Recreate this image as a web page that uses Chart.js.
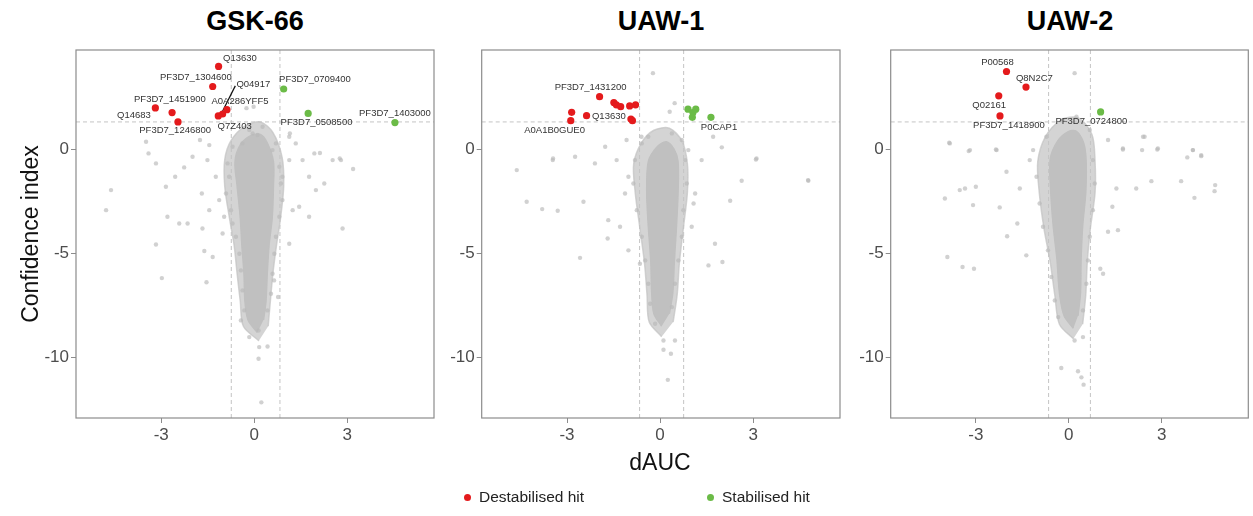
<!DOCTYPE html>
<html>
<head>
<meta charset="utf-8">
<script src="https://cdn.jsdelivr.net/npm/chart.js@4.4.1/dist/chart.umd.min.js"></script>
<style>
  body { margin: 0; background: #fff; }
  #wrap { position: relative; width: 1253px; height: 516px; overflow: hidden; font-family: "Liberation Sans", Arial, sans-serif; }
  canvas { position: absolute; top: 0; }
  .title { position: absolute; top: 6px; height: 30px; line-height: 30px; text-align: center; font-weight: bold; font-size: 27px; color: #000; }
  .axis-title { position: absolute; font-size: 23px; color: #111; text-align: center; height: 28px; line-height: 28px; }
  .legend { position: absolute; top: 486px; height: 22px; line-height: 22px; font-size: 15.5px; color: #222; }
  .dot { display: inline-block; width: 7px; height: 7px; border-radius: 50%; margin-right: 8px; vertical-align: 1px; }
</style>
</head>
<body>
<div id="wrap">
  <div class="title" style="left:76px;width:358px">GSK-66</div>
  <div class="title" style="left:482px;width:358px">UAW-1</div>
  <div class="title" style="left:891px;width:358px">UAW-2</div>
  <canvas id="c1" width="440" height="450" style="left:0"></canvas>
  <canvas id="c2" width="406" height="450" style="left:440px"></canvas>
  <canvas id="c3" width="407" height="450" style="left:846px"></canvas>
  <div class="axis-title" style="left:-120px;top:220px;width:300px;transform:rotate(-90deg)">Confidence index</div>
  <div class="axis-title" style="left:560px;top:448px;width:200px">dAUC</div>
  <div class="legend" style="left:464px"><span class="dot" style="background:#e41a1c"></span>Destabilised hit</div>
  <div class="legend" style="left:707px"><span class="dot" style="background:#6bbb47"></span>Stabilised hit</div>
</div>
<script>
const xTicks = [-3, 0, 3];
const yTicks = [0, -5, -10];
const xRange = [-5.75, 5.8];
const yRange = [-12.9, 4.75];
const cutY = 1.3;

// GSK-66
const gskCutX = [-0.74, 0.83];
const gskCore = [[0.1,-8.8],[-0.2,-8.2],[-0.3,-7.3],[-0.33,-6.0],[-0.4,-4.6],[-0.45,-3.3],[-0.55,-1.8],[-0.62,-0.6],[-0.45,0.2],[-0.1,0.65],[0.2,0.7],[0.42,0.3],[0.62,-0.6],[0.62,-1.8],[0.58,-3.3],[0.48,-4.6],[0.42,-6.0],[0.38,-7.3],[0.3,-8.2]];
const gskHalo = [[0.15,-9.2],[-0.35,-8.5],[-0.45,-7.3],[-0.55,-6.0],[-0.65,-4.6],[-0.8,-3.3],[-0.95,-1.8],[-0.95,-0.5],[-0.75,0.4],[-0.3,1.1],[0.2,1.3],[0.6,0.8],[0.9,-0.4],[0.95,-1.8],[0.85,-3.3],[0.72,-4.6],[0.6,-6.0],[0.52,-7.3],[0.45,-8.5]];
const gskGrey = [[-4.62,-1.97],[-4.78,-2.93],[-3.17,-0.69],[-3.41,-0.21],[-3.49,0.35],[-2.85,-1.81],[-2.55,-1.33],[-2.26,-0.88],[-1.99,-0.37],[-2.80,-3.25],[-2.42,-3.57],[-2.15,-3.57],[-3.17,-4.58],[-2.98,-6.19],[-1.54,-6.39],[-1.61,-4.89],[-1.34,-5.18],[-1.67,-3.81],[-1.45,-2.93],[-1.69,-2.13],[-1.51,-0.53],[-1.45,0.19],[-1.02,-4.05],[-1.13,-2.45],[1.13,-4.54],[1.24,-2.93],[1.45,-2.77],[1.77,-3.25],[1.77,-1.33],[1.99,-1.97],[2.26,-1.65],[1.94,-0.21],[1.56,-0.53],[1.34,0.27],[1.13,0.59],[2.53,-0.53],[2.80,-0.53],[3.19,-0.96],[2.85,-3.81],[0.91,-1.33],[0.16,-9.50],[0.43,-9.47],[0.14,-10.06],[0.23,-12.15],[0.14,-8.70],[-0.43,-8.22],[-0.16,-9.02],[0.59,-0.05],[-0.38,0.27],[-0.16,0.91],[0.27,1.07],[0.11,0.67],[-0.25,1.96],[-0.02,2.03],[-1.75,0.43],[1.15,0.75],[2.12,-0.19],[2.76,-0.45],[0.77,-7.1],[0.64,-6.3],
  [-0.86,-0.69],[-0.81,-1.33],[-0.91,-2.13],[-0.75,-2.93],[-0.70,-3.57],[-0.59,-4.21],[-0.48,-5.02],[-0.43,-5.82],[-0.38,-6.78],[-0.32,-7.74],[0.81,-0.85],[0.86,-1.65],[0.91,-2.45],[0.81,-3.25],[0.70,-4.21],[0.65,-5.02],[0.59,-5.98],[0.54,-6.94],[0.43,-7.74],[-0.70,0.11],[0.70,0.27],[-0.05,0.75],[-1.24,-1.33],[-0.97,-3.25],[1.13,-0.53]];
const gskRed = [[-1.15,3.96],[-1.34,3.0],[-3.19,1.97],[-2.65,1.75],[-2.46,1.30],[-1.16,1.59],[-1.02,1.68],[-0.88,1.89]];
const gskGreen = [[0.95,2.88],[1.74,1.71],[4.54,1.27]];
const gskLeader = [[-1.03,1.79],[-0.61,3.03]];
const gskLabels = [['Q13630',-0.46,4.36],['PF3D7_1304600',-1.88,3.45],['Q04917',-0.03,3.11],['PF3D7_1451900',-2.72,2.40],['A0A286YFF5',-0.46,2.29],['Q14683',-3.88,1.62],['PF3D7_1246800',-2.55,0.88],['Q7Z403',-0.63,1.09],['PF3D7_0709400',1.96,3.32],['PF3D7_0508500',2.01,1.27],['PF3D7_1403000',4.54,1.73]];

// UAW-1
const uaw1CutX = [-0.66, 0.76];
const uaw1Core = [[0.05,-8.5],[-0.2,-7.9],[-0.27,-6.9],[-0.3,-5.4],[-0.38,-3.7],[-0.43,-2.1],[-0.38,-0.6],[-0.1,0.1],[0.2,0.35],[0.45,0.0],[0.58,-0.6],[0.58,-2.1],[0.53,-3.7],[0.46,-5.4],[0.41,-6.9],[0.3,-7.9]];
const uaw1Halo = [[0.05,-9.0],[-0.35,-8.3],[-0.42,-7.0],[-0.5,-5.5],[-0.65,-3.8],[-0.8,-2.1],[-0.85,-0.7],[-0.6,0.3],[-0.2,0.9],[0.3,1.0],[0.7,0.4],[0.88,-0.7],[0.88,-2.1],[0.75,-3.8],[0.62,-5.5],[0.55,-7.0],[0.42,-8.3]];
const uaw1Grey = [[-4.62,-1.01],[-4.30,-2.53],[-3.80,-2.88],[-3.30,-2.96],[-3.46,-0.53],[-2.74,-0.37],[-2.47,-2.53],[-2.58,-5.22],[-2.10,-0.69],[-1.77,0.11],[-1.67,-3.41],[-1.69,-4.29],[-1.29,-3.73],[-1.40,-0.53],[-1.13,-2.13],[-1.02,-4.86],[-0.65,-5.50],[1.77,-4.54],[2.01,-5.42],[1.56,-5.58],[2.26,-2.48],[2.63,-1.52],[3.09,-0.50],[4.78,-1.52],[1.99,0.08],[1.34,-0.53],[1.13,-2.13],[1.02,-3.73],[0.11,-9.18],[0.48,-9.18],[0.11,-9.63],[0.35,-9.82],[0.25,-11.07],[-0.16,-8.38],[0.38,0.75],[0.70,0.43],[-0.38,0.59],[-0.23,3.64],[0.47,2.20],[0.31,1.79],[1.71,0.59],[3.11,-0.45],[4.77,-1.49],[-3.45,-0.45],[-0.60,0.59],[-1.08,0.43],
  [-0.81,-0.53],[-0.86,-1.65],[-0.75,-2.93],[-0.59,-4.21],[-0.48,-5.34],[-0.38,-6.46],[-0.32,-7.42],[0.81,-0.53],[0.86,-1.65],[0.75,-2.93],[0.70,-4.21],[0.59,-5.34],[0.48,-6.46],[0.38,-7.58],[-0.59,0.27],[0.91,-0.05],[-1.02,-1.33],[1.08,-2.61]];
const uaw1Red = [[-1.95,2.51],[-1.49,2.23],[-1.41,2.12],[-1.27,2.03],[-0.98,2.07],[-0.79,2.12],[-2.85,1.76],[-2.88,1.36],[-2.37,1.60],[-0.94,1.44],[-0.89,1.36]];
const uaw1Green = [[0.90,1.91],[1.15,1.91],[1.04,1.52],[1.06,1.75],[1.64,1.52]];
const uaw1Labels = [['PF3D7_1431200',-2.24,2.95],['Q13630',-1.65,1.57],['A0A1B0GUE0',-3.40,0.91],['P0CAP1',1.90,1.04]];

// UAW-2
const uaw2CutX = [-0.65, 0.70];
const uaw2Core = [[0.15,-8.6],[-0.15,-8.0],[-0.3,-6.9],[-0.38,-5.3],[-0.5,-3.7],[-0.58,-2.1],[-0.6,-0.5],[-0.35,0.4],[0.0,0.85],[0.25,0.85],[0.48,0.3],[0.56,-0.5],[0.55,-2.1],[0.45,-3.7],[0.4,-5.3],[0.38,-6.9],[0.3,-8.0]];
const uaw2Halo = [[0.15,-9.1],[-0.3,-8.4],[-0.45,-7.0],[-0.6,-5.4],[-0.8,-3.8],[-0.95,-2.1],[-1.0,-0.6],[-0.75,0.6],[-0.25,1.4],[0.3,1.5],[0.75,0.7],[0.85,-0.6],[0.85,-2.1],[0.7,-3.8],[0.6,-5.4],[0.55,-7.0],[0.45,-8.4]];
const uaw2Grey = [[-4.0,-2.37],[-3.92,-5.18],[-3.43,-5.66],[-3.06,-5.74],[-3.86,0.30],[-3.23,-0.10],[-3.52,-1.97],[-3.35,-1.89],[-3.0,-1.81],[-3.09,-2.69],[-2.23,-2.80],[-2.01,-1.09],[-2.35,-0.02],[-1.99,-4.18],[-1.66,-3.57],[-1.58,-1.89],[-1.37,-5.10],[-1.15,-0.05],[1.11,-5.98],[1.02,-5.74],[1.59,-3.89],[1.27,-3.97],[1.54,-1.89],[1.41,-2.77],[2.18,-1.89],[2.67,-1.54],[3.63,-1.54],[4.06,-2.34],[4.71,-2.02],[3.83,-0.40],[4.28,-0.34],[4.01,-0.05],[2.86,-0.02],[2.37,-0.05],[1.75,-0.02],[1.27,0.43],[2.45,0.59],[-0.24,-10.5],[0.30,-10.66],[0.41,-10.95],[0.48,-11.30],[0.46,-9.02],[0.19,-9.18],[0.19,3.64],[-3.84,0.27],[-3.19,-0.05],[-2.33,-0.05],[2.40,0.59],[1.75,0.03],[2.88,0.03],[4.01,-0.05],[4.28,-0.29],[4.73,-1.73],
  [-1.26,-0.53],[-1.04,-1.33],[-0.94,-2.61],[-0.83,-3.73],[-0.67,-4.86],[-0.56,-6.14],[-0.45,-7.26],[-0.34,-8.06],[0.78,-0.53],[0.84,-1.65],[0.78,-2.93],[0.68,-4.21],[0.62,-5.34],[0.57,-6.46],[0.46,-7.74],[-0.72,0.59],[0.68,0.91],[-0.18,1.39],[0.25,1.55]];
const uaw2Red = [[-2.01,3.72],[-1.38,2.97],[-2.26,2.55],[-2.22,1.59]];
const uaw2Green = [[1.03,1.78]];
const uaw2Labels = [['P00568',-2.30,4.15],['Q8N2C7',-1.11,3.40],['Q02161',-2.57,2.10],['PF3D7_1418900',-1.93,1.14],['PF3D7_0724800',0.73,1.33]];

const toXY = arr => arr.map(p => ({ x: p[0], y: p[1] }));

const frame = {
    id: 'frame',
    afterDatasetsDraw(chart, args, opts) {
        const { ctx, chartArea: a, scales } = chart;
        ctx.save();
        ctx.font = '9.5px "Liberation Sans", Arial, sans-serif';
        ctx.fillStyle = '#333';
        ctx.textAlign = 'center';
        ctx.textBaseline = 'middle';
        (opts.labels || []).forEach(l => {
            ctx.fillText(l[0], scales.x.getPixelForValue(l[1]), scales.y.getPixelForValue(l[2]));
        });
        ctx.strokeStyle = '#8c8c8c';
        ctx.lineWidth = 1.2;
        ctx.strokeRect(a.left, a.top, a.width, a.height);
        ctx.restore();
    }
};

function dashLine(pts) {
    return {
        type: 'line', data: toXY(pts), borderColor: '#c4c4c4', borderWidth: 1,
        borderDash: [4, 3], pointRadius: 0, fill: false, order: 4
    };
}

function blob(pts, colour, order) {
    return {
        type: 'line', data: toXY(pts), fill: 'shape', backgroundColor: colour, borderColor: colour,
        borderWidth: 1.5, tension: 0.3, pointRadius: 0, order: order
    };
}

function makePanel(id, p) {
    const datasets = [
        blob(p.halo, 'rgba(196,196,196,0.72)', 8),
        blob(p.core, '#c0c0c0', 7),
        { data: toXY(p.grey), backgroundColor: 'rgba(185,185,185,0.65)', pointRadius: 2.2, borderWidth: 0, order: 6 },
        dashLine([[xRange[0], cutY], [xRange[1], cutY]]),
        dashLine([[p.cutX[0], yRange[0]], [p.cutX[0], yRange[1]]]),
        dashLine([[p.cutX[1], yRange[0]], [p.cutX[1], yRange[1]]]),
        { data: toXY(p.red), backgroundColor: '#e41a1c', pointRadius: 3.6, borderWidth: 0, order: 1 },
        { data: toXY(p.green), backgroundColor: '#6bbb47', pointRadius: 3.6, borderWidth: 0, order: 1 }
    ];
    if (p.leader) {
        datasets.push({ type: 'line', data: toXY(p.leader), borderColor: '#111', borderWidth: 1.2, pointRadius: 0, fill: false, order: 2 });
    }

    new Chart(document.getElementById(id).getContext('2d'), {
        type: 'scatter',
        data: { datasets: datasets },
        options: {
            responsive: false,
            animation: false,
            events: [],
            layout: { padding: { top: 50, right: p.padRight, left: 0, bottom: 0 } },
            plugins: { legend: { display: false }, tooltip: { enabled: false }, frame: { labels: p.labels } },
            scales: {
                x: {
                    type: 'linear', min: xRange[0], max: xRange[1],
                    afterBuildTicks: s => { s.ticks = xTicks.map(v => ({ value: v })); },
                    afterFit: s => { s.height = 32; },
                    grid: { drawOnChartArea: false, drawTicks: true, tickLength: 5, color: '#8c8c8c' },
                    border: { display: false },
                    ticks: { color: '#4d4d4d', padding: 2, font: { size: 17, family: '"Liberation Sans", Arial, sans-serif' } }
                },
                y: {
                    type: 'linear', min: yRange[0], max: yRange[1],
                    afterBuildTicks: s => { s.ticks = yTicks.map(v => ({ value: v })); },
                    afterFit: s => { s.width = p.axisWidth; },
                    grid: { drawOnChartArea: false, drawTicks: true, tickLength: 5, color: '#8c8c8c' },
                    border: { display: false },
                    ticks: { color: '#4d4d4d', padding: 2, font: { size: 17, family: '"Liberation Sans", Arial, sans-serif' } }
                }
            }
        },
        plugins: [frame]
    });
}

makePanel('c1', { core: gskCore, halo: gskHalo, grey: gskGrey, red: gskRed, green: gskGreen, labels: gskLabels, cutX: gskCutX, leader: gskLeader, axisWidth: 76, padRight: 6 });
makePanel('c2', { core: uaw1Core, halo: uaw1Halo, grey: uaw1Grey, red: uaw1Red, green: uaw1Green, labels: uaw1Labels, cutX: uaw1CutX, axisWidth: 41.7, padRight: 6 });
makePanel('c3', { core: uaw2Core, halo: uaw2Halo, grey: uaw2Grey, red: uaw2Red, green: uaw2Green, labels: uaw2Labels, cutX: uaw2CutX, axisWidth: 44.7, padRight: 4.7 });
</script>
</body>
</html>
